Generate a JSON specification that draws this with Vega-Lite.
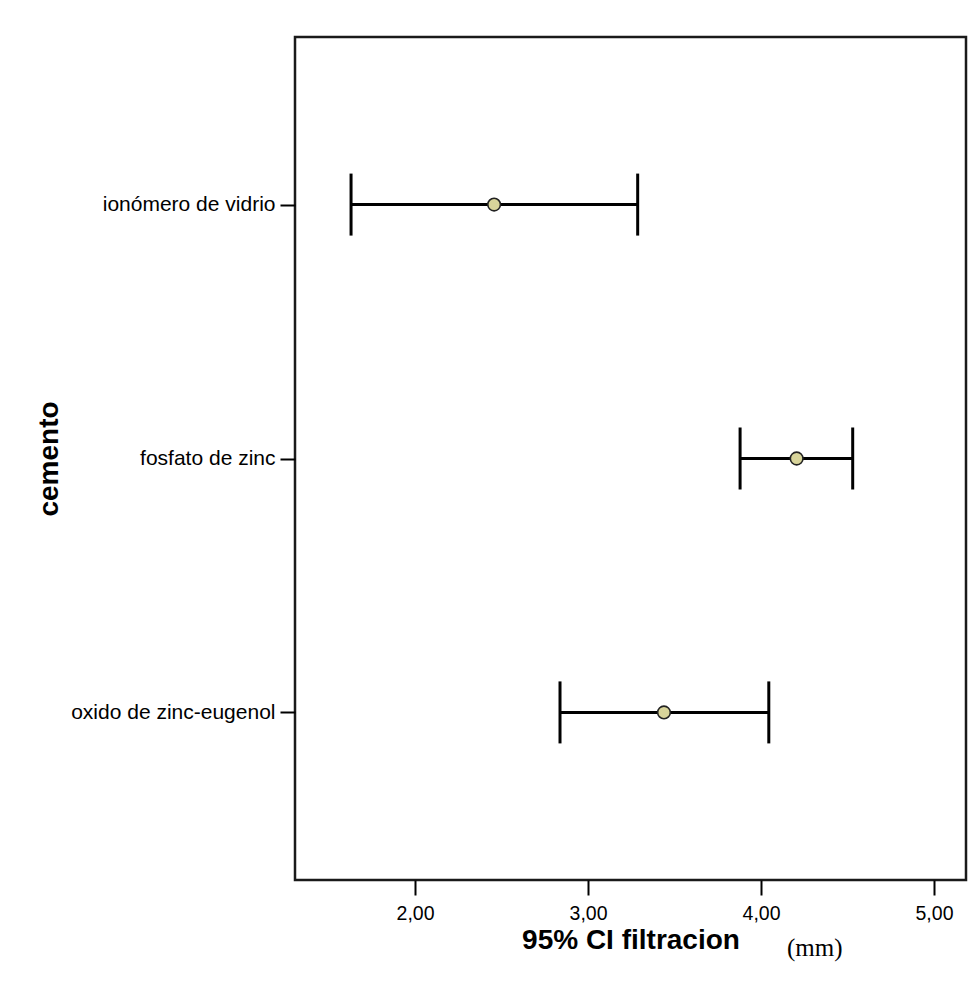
{
  "$schema": "https://vega.github.io/schema/vega-lite/v6.json",
  "autosize": {"type": "none"},
  "width": 671,
  "height": 843,
  "padding": {"left": 295, "top": 37, "right": 8, "bottom": 108},
  "background": "white",
  "title": {
    "text": "(mm)",
    "orient": "bottom",
    "anchor": "start",
    "frame": "group",
    "dx": 492,
    "offset": -19,
    "font": "Liberation Serif",
    "fontSize": 25,
    "fontWeight": "normal",
    "color": "black"
  },
  "data": {
    "values": [
      {"cemento": "ionómero de vidrio", "mean": 2.457, "low": 1.63, "high": 3.287},
      {"cemento": "fosfato de zinc", "mean": 4.206, "low": 3.879, "high": 4.53},
      {"cemento": "oxido de zinc-eugenol", "mean": 3.439, "low": 2.838, "high": 4.045}
    ]
  },
  "encoding": {
    "y": {
      "field": "cemento",
      "type": "nominal",
      "sort": null,
      "scale": {"type": "point", "padding": 0.66},
      "axis": {
        "title": "cemento",
        "titleFont": "Liberation Sans",
        "titleFontSize": 28,
        "titleFontWeight": "bold",
        "titleColor": "black",
        "titlePadding": 32,
        "labelFont": "Liberation Sans",
        "labelFontSize": 21,
        "labelColor": "black",
        "labelPadding": 5,
        "labelLimit": 400,
        "tickSize": 15,
        "tickWidth": 2,
        "tickColor": "black",
        "domain": false,
        "grid": false
      }
    }
  },
  "layer": [
    {
      "mark": {"type": "rule", "strokeWidth": 3, "color": "black"},
      "encoding": {
        "x": {
          "field": "low",
          "type": "quantitative",
          "scale": {"domain": [1.306, 5.185], "nice": false, "zero": false},
          "axis": {
            "title": "95% CI filtracion",
            "titleFont": "Liberation Sans",
            "titleFontSize": 28,
            "titleFontWeight": "bold",
            "titleColor": "black",
            "titlePadding": 4,
            "values": [2, 3, 4, 5],
            "labelExpr": "replace(format(datum.value, '.2f'), '.', ',')",
            "labelFont": "Liberation Sans",
            "labelFontSize": 19.5,
            "labelColor": "black",
            "labelPadding": 9,
            "tickSize": 15,
            "tickWidth": 2,
            "tickColor": "black",
            "domain": false,
            "grid": false
          }
        },
        "x2": {"field": "high"}
      }
    },
    {
      "mark": {"type": "tick", "size": 62, "thickness": 3, "color": "black", "opacity": 1},
      "encoding": {"x": {"field": "low", "type": "quantitative"}}
    },
    {
      "mark": {"type": "tick", "size": 62, "thickness": 3, "color": "black", "opacity": 1},
      "encoding": {"x": {"field": "high", "type": "quantitative"}}
    },
    {
      "mark": {"type": "point", "shape": "circle", "filled": true, "size": 160, "fill": "#d8d49a", "stroke": "#222222", "strokeWidth": 1.6, "opacity": 1},
      "encoding": {"x": {"field": "mean", "type": "quantitative"}}
    }
  ],
  "config": {
    "view": {"stroke": "#1a1a1a", "strokeWidth": 2.5}
  }
}
